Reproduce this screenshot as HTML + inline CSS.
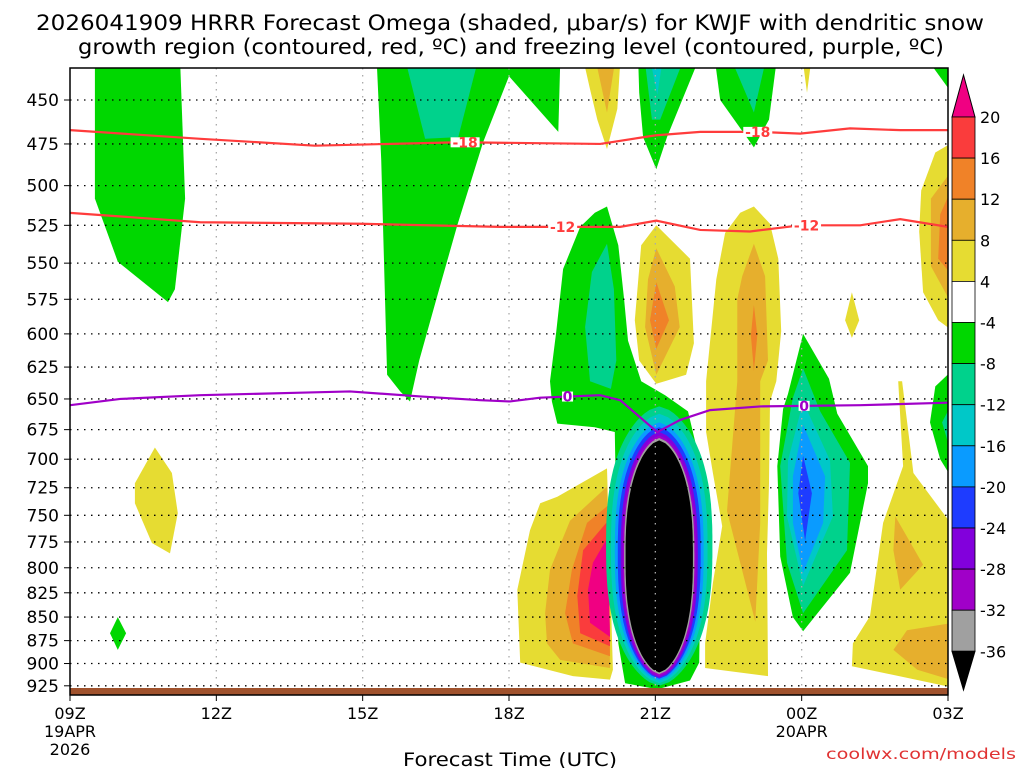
<!DOCTYPE html>
<html><head><meta charset="utf-8"><style>
html,body{margin:0;padding:0;background:#fff;}
svg{display:block;font-family:"DejaVu Sans","Liberation Sans",sans-serif;}
</style></head><body>
<svg id="chart" width="1024" height="768" viewBox="0 0 1024 768" xmlns="http://www.w3.org/2000/svg">
<text x="510" y="30" font-size="21" text-anchor="middle" textLength="948" lengthAdjust="spacingAndGlyphs" fill="#000">2026041909 HRRR Forecast Omega (shaded, μbar/s) for KWJF with dendritic snow</text>
<text x="511" y="54" font-size="21" text-anchor="middle" textLength="866" lengthAdjust="spacingAndGlyphs" fill="#000">growth region (contoured, red, ºC) and freezing level (contoured, purple, ºC)</text>
<defs><clipPath id="plotclip"><rect x="70" y="68" width="878" height="627"/></clipPath></defs>
<g id="shading" clip-path="url(#plotclip)"></g>
<g id="grid"></g>
<rect x="70" y="688" width="878" height="7" fill="#a0522d"/>
<g id="lines" clip-path="url(#plotclip)"></g>
<rect x="70" y="68" width="878" height="627" fill="none" stroke="#000" stroke-width="1.5"/>
<g id="yaxis"></g>
<g id="xaxis"></g>
<text x="510" y="766" font-size="19" text-anchor="middle" textLength="214" lengthAdjust="spacingAndGlyphs">Forecast Time (UTC)</text>
<text x="1016" y="759" font-size="15" text-anchor="end" fill="#e03232" textLength="190" lengthAdjust="spacingAndGlyphs">coolwx.com/models</text>
<g id="colorbar"></g>
</svg>
<script>
// ---- data ----
const pressureTicks = [450,475,500,525,550,575,600,625,650,675,700,725,750,775,800,825,850,875,900,925];
const hourTicks = [0,3,6,9,12,15,18];
const hourLabels = ["09Z","12Z","15Z","18Z","21Z","00Z","03Z"];
const dateLabels = {0:["19APR","2026"],15:["20APR"]};
const cbLevels = [20,16,12,8,4,-4,-8,-12,-16,-20,-24,-28,-32,-36];
const cbColors = ["#f00082","#fa3c3c","#f08228","#e6af2d","#e6dc32","#ffffff","#00d700","#00d28c","#00c8c8","#0a9bff","#1e3cff","#8200dc","#a000c8","#a0a0a0","#000000"];
const levelColor = {g:"#00d700",t:"#00d28c",c:"#00c8c8",lb:"#0a9bff",b:"#1e3cff",pu:"#8200dc",mp:"#a000c8",gr:"#a0a0a0",k:"#000",y:"#e6dc32",do:"#e6af2d",o:"#f08228",r:"#fa3c3c",pk:"#f00082"};
// omega regions: [level, vertices [hour, hPa]]
const omegaRegions = [
 ["g",[[.51,430],[2.26,430],[2.36,508],[2.15,568],[2.01,577],[.98,549],[.51,508]]],
 ["g",[[6.29,430],[10.05,430],[10.01,468],[9.0,437],[8.47,474],[7.94,525],[7.55,570],[7.16,620],[6.97,652],[6.77,644],[6.5,631],[6.38,484]]],
 ["t",[[6.89,430],[8.35,430],[7.96,471],[7.28,472]]],
 ["g",[[11.65,430],[12.86,430],[12.24,471],[12.02,490],[11.75,471],[11.67,446]]],
 ["t",[[11.79,430],[12.55,430],[12.1,461],[11.93,461]]],
 ["c",[[11.91,430],[12.14,430],[12.04,447]]],
 ["g",[[13.23,430],[14.48,430],[14.33,461],[14.02,477],[13.33,450]]],
 ["t",[[13.59,430],[14.25,430],[14.02,457]]],
 ["g",[[17.63,430],[18.1,430],[18.1,447]]],
 ["g",[[11.01,513],[11.24,538],[11.36,575],[11.44,605],[11.71,636],[12.2,647],[12.67,660],[12.92,703],[12.94,767],[12.9,899],[12.71,919],[12.04,929],[11.38,922],[11.24,878],[11.17,677],[10.76,673],[9.99,670],[9.88,652],[9.84,636],[9.97,598],[10.11,554],[10.46,526],[10.76,517]]],
 ["t",[[11.01,537],[11.15,568],[11.2,620],[11.09,642],[10.66,636],[10.56,595],[10.7,556]]],
 ["g",[[.98,850],[1.15,867],[.98,885],[.82,867]]],
 ["g",[[15.03,600],[15.56,634],[15.73,662],[16.36,706],[16.36,721],[15.99,805],[15.03,865],[14.82,850],[14.56,789],[14.5,706],[14.62,658],[14.72,646]]],
 ["t",[[15.03,626],[15.38,660],[15.99,703],[15.93,783],[15.03,846],[14.7,795],[14.56,706],[14.82,649]]],
 ["c",[[15.03,652],[15.58,701],[15.64,751],[15.03,818],[14.7,751],[14.72,701]]],
 ["lb",[[15.03,671],[15.48,715],[15.44,757],[15.03,805],[14.82,757],[14.82,715]]],
 ["b",[[15.03,697],[15.21,730],[15.07,774],[14.93,730]]],
 ["g",[[18.1,627],[17.74,640],[17.63,669],[17.84,700],[18.1,718]]],
 ["t",[[18.1,652],[17.88,669],[18.1,700]]],
 ["y",[[9.17,822],[9.43,764],[9.64,739],[9.99,733],[11.01,708],[11.13,907],[11.07,918],[10.31,914],[9.23,899]]],
 ["do",[[9.74,846],[9.84,802],[10.25,755],[11.01,724],[11.07,905],[10.05,896],[9.78,878]]],
 ["o",[[10.15,846],[10.29,802],[10.6,757],[11.03,741],[11.07,892],[10.31,878]]],
 ["r",[[10.4,828],[10.52,783],[11.03,755],[11.07,881],[10.46,867]]],
 ["pk",[[10.62,822],[10.72,795],[11.03,770],[11.07,871],[10.66,856]]],
 ["y",[[14.02,513],[14.35,524],[14.52,547],[14.58,598],[14.48,636],[14.35,652],[14.33,721],[14.29,786],[14.31,914],[13.02,905],[13.02,878],[13.18,815],[13.37,760],[13.18,712],[13.04,677],[13.04,636],[13.25,561],[13.43,530],[13.74,517]]],
 ["do",[[14.02,537],[14.25,559],[14.31,620],[14.15,636],[14.15,757],[14.05,855],[13.47,746],[13.68,636],[13.68,575],[13.78,559]]],
 ["o",[[14.02,579],[14.09,601],[14.02,628],[13.96,601]]],
 ["y",[[12.02,525],[12.71,547],[12.79,607],[12.63,631],[12.02,638],[11.67,620],[11.58,590],[11.71,538]]],
 ["do",[[12.02,540],[12.4,566],[12.5,595],[12.02,631],[11.79,595],[11.85,561]]],
 ["o",[[12.02,563],[12.28,590],[12.02,611],[11.89,590]]],
 ["y",[[10.54,430],[11.28,430],[11.22,455],[11.01,478],[10.81,461],[10.66,444]]],
 ["do",[[10.79,430],[11.17,430],[11.01,457]]],
 ["y",[[15.03,430],[15.19,430],[15.11,446]]],
 ["y",[[16.03,570],[16.18,590],[16.03,603],[15.89,590]]],
 ["y",[[18.1,474],[17.74,480],[17.45,503],[17.41,529],[17.49,570],[17.8,590],[18.1,598]]],
 ["do",[[18.1,490],[17.65,508],[17.65,552],[18.1,580]]],
 ["o",[[18.1,500],[17.84,518],[17.8,547],[18.1,559]]],
 ["y",[[16.98,636],[17.08,706],[16.67,757],[16.4,849],[16.05,878],[16.03,903],[18.1,927],[18.1,760],[17.29,712],[17.06,636]]],
 ["do",[[16.92,751],[17.49,797],[17.02,822],[16.88,783]]],
 ["do",[[16.88,885],[17.16,864],[18.1,856],[18.1,919],[17.37,907]]],
 ["y",[[1.74,690],[2.09,712],[2.21,748],[2.05,786],[1.68,776],[1.33,739],[1.33,721]]]
];
// column core
const coreLevels = ["t","c","lb","b","pu","mp","gr","k"];
const coreTop = [656,662,669,673,677,680,682,684];
const coreBottom = [925,922,919,917,916,914,912,910];
const coreHalfWidth = [1.09,0.99,0.91,0.85,0.79,0.75,0.72,0.69];
const coreCenter = 12.08;
// contour lines
const lineM18 = [[0,467],[2.67,472],[5.02,476],[8,474],[10.87,475],[12.0,470],[12.92,468],[14.15,468],[14.97,469],[15.99,466],[17.02,467],[18,467]];
const lineM12 = [[0,517],[2.67,523],[5.95,524],[8.82,526],[11.28,526],[12.02,522],[12.92,528],[13.94,529],[14.97,525],[16.2,525],[17.02,521],[18,526]];
const line0 = [[0,655],[1.03,650],[2.67,647],[4.72,645],[5.74,644],[7.18,648],[8.41,651],[9.02,652],[9.64,649],[10.87,647],[11.28,651],[12.04,677],[12.51,667],[13.12,659],[14.15,656],[16.2,655],[18,653]];
const labelsM18 = [8.1,14.1];
const labelsM12 = [10.1,15.1];
const labels0 = [10.2,15.05];

// ---- scales ----
const NS="http://www.w3.org/2000/svg";
function X(h){return 70+h*878/18;}
function Y(p){return 100+Math.log(p/450)*813;}
function mk(tag,attrs,parent){const e=document.createElementNS(NS,tag);for(const k in attrs)e.setAttribute(k,attrs[k]);parent.appendChild(e);return e;}
const shading=document.getElementById('shading');
omegaRegions.forEach(([lv,pts],i)=>{
  const el=mk('polygon',{points:pts.map(([h,p])=>X(h).toFixed(1)+','+Y(p).toFixed(1)).join(' '),fill:levelColor[lv]},shading);
  
  
});
coreLevels.forEach((lv,i)=>{
  const cx=X(coreCenter), yt=Y(coreTop[i]), yb=Y(coreBottom[i]);
  const cy=(yt+yb)/2, hh=(yb-yt)/2, hw=coreHalfWidth[i]*878/18;
  let ptsR=[],ptsL=[];
  for(let k=0;k<=80;k++){const u=-1+2*k/80;const w=hw*Math.pow(1-Math.pow(Math.abs(u),2.6),0.62);ptsR.push((cx+w).toFixed(1)+','+(cy+u*hh).toFixed(1));ptsL.unshift((cx-w).toFixed(1)+','+(cy+u*hh).toFixed(1));}
  const el=mk('polygon',{points:ptsR.concat(ptsL).join(' '),fill:levelColor[lv]},shading);
  
  
});
// grid
const grid=document.getElementById('grid');
pressureTicks.forEach(p=>{
  const el=mk('line',{x1:70,x2:948,y1:Y(p),y2:Y(p),stroke:'#000','stroke-width':1.3,'stroke-dasharray':'1.5,5.5'},grid);
  
  
});
hourTicks.slice(1,-1).forEach(h=>{
  const el=mk('line',{x1:X(h),x2:X(h),y1:68,y2:695,stroke:'#aaa','stroke-width':1.3,'stroke-dasharray':'1.5,5.5'},grid);
  
  
});
// contour lines
const lines=document.getElementById('lines');
function drawLine(data,color,name,labelHours,txt){
  const el=mk('polyline',{points:data.map(([h,p])=>X(h)+','+Y(p)).join(' '),fill:'none',stroke:color,'stroke-width':2.2},lines);
  
  
  labelHours.forEach(h=>{
    let p=data[0][1];
    for(let i=0;i<data.length-1;i++){if(h>=data[i][0]&&h<=data[i+1][0]){const f=(h-data[i][0])/(data[i+1][0]-data[i][0]);p=data[i][1]+f*(data[i+1][1]-data[i][1]);}}
    const bg=mk('rect',{x:X(h)-txt.length*4.5-1,y:Y(p)-5,width:txt.length*9+2,height:10,fill:'#fff'},lines);
    
    
    const t=mk('text',{x:X(h),y:Y(p)+5,'font-size':14,'font-weight':'bold','text-anchor':'middle',fill:color},lines);
    
    
    t.textContent=txt;
  });
}
drawLine(lineM18,'#ff3c3c','contour-minus18',labelsM18,'-18');
drawLine(lineM12,'#ff3c3c','contour-minus12',labelsM12,'-12');
drawLine(line0,'#a000c8','freezing-level',labels0,'0');
// y axis
const yaxis=document.getElementById('yaxis');
pressureTicks.forEach(p=>{
  const t=mk('text',{x:59,y:Y(p)+6,'font-size':17,'text-anchor':'end'},yaxis);
  
  
  t.textContent=p;
  const tk=mk('line',{x1:64,x2:70,y1:Y(p),y2:Y(p),stroke:'#000'},yaxis);
  
  
});
// x axis
const xaxis=document.getElementById('xaxis');
hourTicks.forEach((h,i)=>{
  const tk=mk('line',{x1:X(h),x2:X(h),y1:695,y2:701,stroke:'#000'},xaxis);
  
  
  const t=mk('text',{x:X(h),y:719,'font-size':16,'text-anchor':'middle'},xaxis);
  
  
  t.textContent=hourLabels[i];
  (dateLabels[h]||[]).forEach((s,j)=>{
    const d=mk('text',{x:X(h),y:737+j*18,'font-size':16,'text-anchor':'middle'},xaxis);
    
    
    d.textContent=s;
  });
});
// colorbar
const cb=document.getElementById('colorbar');
const cbX=952,cbW=23,cbTop=117,seg=41.1;
function cbY(i){return cbTop+i*seg;}
const tri1=mk('polygon',{points:`${cbX},${cbTop} ${cbX+cbW},${cbTop} ${cbX+cbW/2},75`,fill:cbColors[0],stroke:'#000'},cb);


for(let i=0;i<cbLevels.length-1;i++){
  const r=mk('rect',{x:cbX,y:cbY(i),width:cbW,height:seg,fill:cbColors[i+1],stroke:'#000','stroke-width':0.8},cb);
  
  
}
const last=cbY(cbLevels.length-1);
const tri2=mk('polygon',{points:`${cbX},${last} ${cbX+cbW},${last} ${cbX+cbW/2},690`,fill:cbColors[cbColors.length-1],stroke:'#000'},cb);


cbLevels.forEach((v,i)=>{
  const t=mk('text',{x:980,y:cbY(i)+6,'font-size':16},cb);
  
  
  t.textContent=v;
});
</script>
</body></html>
